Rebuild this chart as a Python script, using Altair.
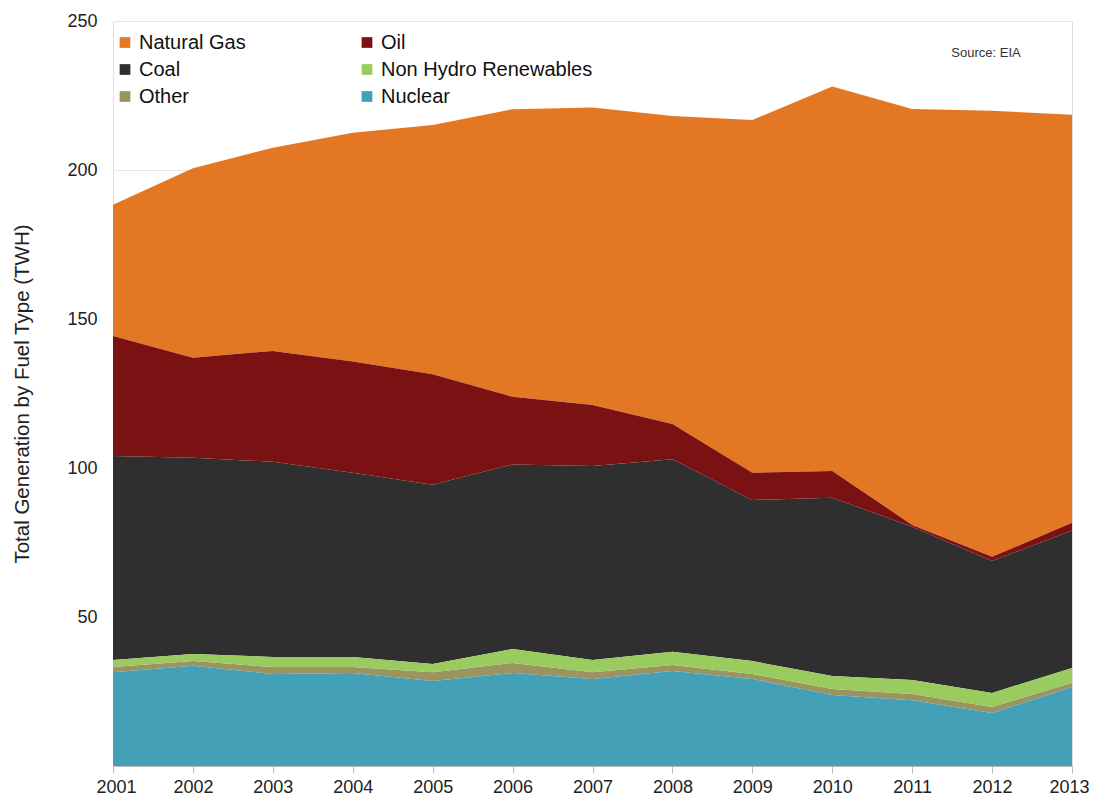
import altair as alt
import pandas as pd

years = list(range(2001, 2014))
nuclear = [31.5, 33.6, 30.9, 31.2, 28.5, 31.2, 29.2, 31.9, 29.2, 23.8, 22.1, 17.8, 26.5]
other = [1.7, 1.6, 2.3, 2.0, 3.0, 3.4, 2.3, 2.0, 1.7, 2.0, 2.1, 2.0, 1.4]
renewables = [2.4, 2.4, 3.4, 3.4, 2.7, 4.7, 4.1, 4.4, 4.3, 4.4, 4.7, 4.7, 5.0]
coal = [68.4, 65.8, 65.5, 61.8, 60.2, 61.9, 65.1, 64.6, 54.1, 59.8, 51.4, 44.3, 46.1]
oil = [40.3, 33.6, 37.2, 37.3, 37.1, 22.7, 20.4, 11.9, 9.1, 9.0, 0.6, 1.4, 2.6]
gas = [44.0, 63.6, 68.2, 76.8, 83.6, 96.5, 99.9, 103.3, 118.4, 129.0, 139.6, 149.7, 136.9]

# legend domain ordered so that the two-column legend reads row by row
fuels = ["Natural Gas", "Coal", "Other", "Oil", "Non Hydro Renewables", "Nuclear"]
colors = ["#E47724", "#2F2F2F", "#9C9460", "#7A1113", "#9ACB5E", "#44A0B6"]
stack_order = {"Nuclear": 0, "Other": 1, "Non Hydro Renewables": 2, "Coal": 3, "Oil": 4, "Natural Gas": 5}
series = {"Natural Gas": gas, "Oil": oil, "Coal": coal,
          "Non Hydro Renewables": renewables, "Other": other, "Nuclear": nuclear}

rows = []
for f in fuels:
    for y, v in zip(years, series[f]):
        rows.append({"Year": y, "Fuel": f, "TWH": v, "order": stack_order[f]})
df = pd.DataFrame(rows)

FONT = "Liberation Sans"

area = alt.Chart(df).mark_area(opacity=1).encode(
    x=alt.X("Year:Q",
            scale=alt.Scale(domain=[2001, 2013], nice=False, zero=False),
            axis=alt.Axis(values=years, format="d", title=None, grid=False,
                          labelFontSize=18, labelColor="#222222", labelFont=FONT,
                          tickSize=7, tickColor="#BBBBBB", domainColor="#BBBBBB",
                          labelPadding=5, labelFlush=True, labelFlushOffset=17)),
    y=alt.Y("TWH:Q", stack="zero",
            scale=alt.Scale(domain=[0, 250], nice=False),
            axis=alt.Axis(values=[50, 100, 150, 200, 250], title="Total Generation by Fuel Type  (TWH)",
                          titleFontSize=20.5, titleFont=FONT, titleFontWeight="normal",
                          titleColor="#222222", titlePadding=34,
                          labelFontSize=18, labelColor="#222222", labelFont=FONT,
                          labelPadding=16, ticks=False, domain=False,
                          gridColor="#E6E6E6", gridWidth=1)),
    color=alt.Color("Fuel:N",
                    scale=alt.Scale(domain=fuels, range=colors),
                    legend=alt.Legend(title=None, orient="none", legendX=2, legendY=11.5,
                                      columns=2, columnPadding=111, rowPadding=7,
                                      symbolType="square", symbolSize=115, symbolStrokeWidth=0,
                                      labelFontSize=20, labelFont=FONT, labelColor="#111111",
                                      labelOffset=4, labelLimit=300, padding=0)),
    order=alt.Order("order:Q", sort="ascending"),
)

src = alt.Chart(pd.DataFrame({"t": ["Source: EIA"]})).mark_text(
    font=FONT, fontSize=13, color="#333333", align="center", baseline="middle"
).encode(text="t:N", x=alt.value(873), y=alt.value(32))

chart = alt.layer(area, src).properties(
    width=959, height=745,
    autosize=alt.AutoSizeParams(type="none"),
    padding={"left": 105, "top": 13, "right": 17, "bottom": 30},
).configure_view(stroke=None).configure(background="white")

chart.save("out.html", embed_options={"renderer": "svg", "actions": False})
